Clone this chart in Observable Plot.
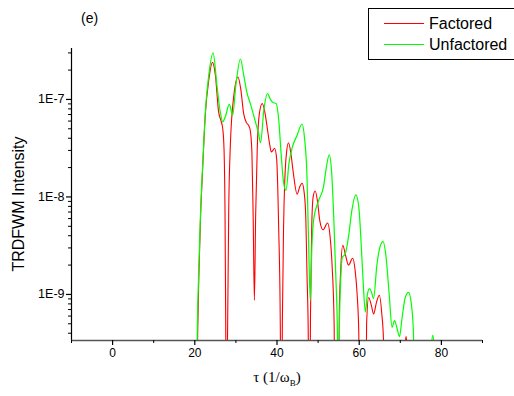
<!DOCTYPE html>
<html><head><meta charset="utf-8">
<script src="https://cdn.jsdelivr.net/npm/d3@7"></script>
<script src="https://cdn.jsdelivr.net/npm/@observablehq/plot@0.6"></script>
<style>
html,body{margin:0;padding:0;background:#fff;overflow:hidden;}
#wrap{position:relative;width:514px;height:396px;font-family:Arial,"Liberation Sans",sans-serif;color:#000;}
#legend{position:absolute;left:368px;top:8px;width:170px;height:50px;border:1px solid #000;background:#fff;}
.lg{position:absolute;left:15px;width:40px;height:0;}
.lt{position:absolute;left:60px;font-size:16px;line-height:16px;white-space:nowrap;}
#xlab{position:absolute;left:0;width:514px;top:369px;text-align:center;font-family:"Liberation Serif","Times New Roman",serif;font-size:15px;padding-left:40px;box-sizing:border-box;}
#ylab{position:absolute;left:19px;top:204px;width:0;height:0;}
#ylab span{position:absolute;left:0;top:0;transform:translate(-50%,-50%) rotate(-90deg);white-space:nowrap;font-size:16px;line-height:16px;}
#tag{position:absolute;left:81px;top:10px;font-size:14px;}
</style></head>
<body><div id="wrap">
<div id="chart"></div>
<div id="tag">(e)</div>
<div id="ylab"><span>TRDFWM Intensity</span></div>
<div id="xlab">τ (1/ω<sub style="font-size:9px">B</sub>)</div>
<div id="legend">
  <div class="lg" style="top:14px;border-top:1px solid #ff0000"></div>
  <div class="lt" style="top:7px">Factored</div>
  <div class="lg" style="top:35px;border-top:1.5px solid #00ff00"></div>
  <div class="lt" style="top:28px">Unfactored</div>
</div>
</div>
<script>
// Factored (red) series: tau and intensity
const factoredTau = [20.3,20.7,21.0,21.4,21.8,22.6,23.4,24.3,25.0,25.8,26.4,26.8,27.1,27.35,27.55,27.75,27.95,28.25,28.65,29.5,30.5,31.2,31.9,32.6,33.1,33.5,33.9,34.2,34.5,34.8,35.2,35.7,36.4,37.0,37.6,38.2,38.6,39.0,39.4,39.9,40.4,40.8,41.05,41.3,41.6,41.9,42.3,42.8,43.4,43.9,44.9,45.5,46.1,46.6,47.0,47.3,47.6,47.85,48.15,48.45,48.8,49.3,49.9,50.4,51.2,52.3,52.9,53.4,53.9,54.2,54.9,55.15,55.5,56.0,56.7,57.4,58.4,59.0,59.5,59.9,60.2,61.5,61.8,62.3,63.0,63.5,64.2,64.9,65.5,65.9,66.15,71.0,71.2,71.4,71.6,71.8];
const factoredI = [1e-11,4.0e-10,1.6e-9,6.3e-9,1.55e-8,7.4e-8,1.58e-7,2.4e-7,1.78e-7,7.4e-8,6.0e-8,5.0e-8,3.2e-8,7.1e-9,3.2e-10,1e-11,3.2e-10,7.1e-9,3.4e-8,1.1e-7,1.7e-7,1.26e-7,7.1e-8,5.75e-8,5.4e-8,4.8e-8,2.8e-8,6.3e-9,8.7e-10,6.3e-9,3.2e-8,7.1e-8,9.1e-8,7.6e-8,5.2e-8,3.5e-8,2.9e-8,3.0e-8,3.16e-8,2.5e-8,5.0e-9,5.0e-10,1e-11,5.0e-10,5.0e-9,1.5e-8,2.8e-8,3.6e-8,2.75e-8,1.86e-8,1.07e-8,1.26e-8,1.38e-8,1.12e-8,6.3e-9,1.6e-9,4.0e-10,1e-11,6.3e-10,5.0e-9,1.0e-8,1.15e-8,8.7e-9,5.75e-9,4.6e-9,5.4e-9,4.0e-9,2.0e-9,5.0e-10,1e-11,1e-11,6.3e-10,1.78e-9,3.2e-9,2.5e-9,2.0e-9,2.35e-9,1.78e-9,1.0e-9,4.0e-10,1e-11,1e-11,5.0e-10,9.3e-10,7.6e-10,6.3e-10,8.3e-10,9.8e-10,6.3e-10,3.5e-10,1e-11,1e-11,3.0e-10,3.7e-10,3.0e-10,1e-11];
// Unfactored (green) series
const unfactoredTau = [20.2,20.6,21.0,21.4,22.0,22.6,23.4,24.45,25.4,26.2,26.8,27.4,28.4,29.2,30.0,31.1,31.9,32.7,33.5,34.7,35.5,36.0,36.8,37.7,38.4,39.0,39.8,40.4,41.0,41.6,42.2,42.9,43.7,44.9,46.1,46.7,47.3,47.7,48.1,48.5,48.9,50.1,51.3,52.0,52.7,53.3,53.8,54.3,54.7,54.95,55.2,55.5,55.9,56.6,57.4,58.2,59.2,59.9,60.5,61.0,61.5,62.0,62.5,63.0,63.5,64.3,65.0,65.8,66.5,67.3,68.0,68.6,69.2,69.8,70.4,71.2,72.0,72.7,73.2,73.6,77.3,77.6,77.9,78.2,78.5];
const unfactoredI = [1e-11,4.0e-10,2.0e-9,6.9e-9,2.5e-8,7.9e-8,1.78e-7,3.0e-7,1.38e-7,7.4e-8,5.9e-8,6.6e-8,8.9e-8,6.9e-8,1.41e-7,2.6e-7,1.78e-7,1.17e-7,9.1e-8,6.0e-8,4.5e-8,3.6e-8,7.8e-8,1.15e-7,1.0e-7,9.3e-8,9.1e-8,6.3e-8,2.8e-8,1.41e-8,1.17e-8,2.2e-8,3.2e-8,4.3e-8,5.6e-8,4.0e-8,1.6e-8,3.2e-9,8.7e-10,3.2e-9,5.75e-9,9.1e-9,1.26e-8,2.0e-8,2.7e-8,1.78e-8,6.3e-9,1.58e-9,4.0e-10,1e-11,5.0e-10,1.41e-9,2.4e-9,2.6e-9,3.9e-9,7.2e-9,1.05e-8,7.9e-9,3.2e-9,1.26e-9,6.6e-10,1.0e-9,1.15e-9,1.05e-9,9.1e-10,2.0e-9,3.0e-9,3.5e-9,2.5e-9,1.0e-9,4.6e-10,5.4e-10,4.5e-10,3.7e-10,5.6e-10,9.3e-10,1.05e-9,7.9e-10,4.0e-10,1e-11,1e-11,3.0e-10,3.8e-10,3.0e-10,1e-11];
// Axis ticks
const xMajorTicks = [0, 20, 40, 60, 80];
const xMinorTicks = [-10, 10, 30, 50, 70, 90];
const yMajorTicks = [1e-9, 1e-8, 1e-7];
const yMinorTicks = [4e-10,5e-10,6e-10,7e-10,8e-10,9e-10,2e-9,3e-9,4e-9,5e-9,6e-9,7e-9,8e-9,9e-9,2e-8,3e-8,4e-8,5e-8,6e-8,7e-8,8e-8,9e-8,2e-7,3e-7];
const yMin = 3.37e-10, yMax = 3.33e-7;

const factored = factoredTau.map((t, i) => ({tau: t, I: factoredI[i]}));
const unfactored = unfactoredTau.map((t, i) => ({tau: t, I: unfactoredI[i]}));

const chart = Plot.plot({
  width: 514, height: 396,
  marginLeft: 71, marginRight: 32, marginTop: 48, marginBottom: 56,
  style: {fontFamily: "Arial, 'Liberation Sans', sans-serif", fontSize: "12px", color: "#000", background: "#fff"},
  x: {domain: [-10, 90]},
  y: {type: "log", domain: [yMin, yMax]},
  marks: [
    Plot.line(factored, {x: "tau", y: "I", stroke: "#ff0000", strokeWidth: 1.1, curve: "monotone-x", clip: true}),
    Plot.line(unfactored, {x: "tau", y: "I", stroke: "#00ff00", strokeWidth: 1.2, curve: "monotone-x", clip: true}),
    Plot.ruleX([-10], {stroke: "#000", strokeWidth: 1.2}),
    Plot.ruleY([yMin], {stroke: "#555", strokeWidth: 1.6}),
    Plot.axisX(xMajorTicks, {tickSize: 5, tickPadding: 3, fontSize: 12, tickFormat: d => String(d), label: null, strokeWidth: 1.2}),
    Plot.axisX(xMinorTicks, {tickSize: 3, tickFormat: () => "", label: null}),
    Plot.axisY(yMajorTicks, {tickSize: 5, tickPadding: 2, fontSize: 12.5, tickFormat: d => "1E" + Math.round(Math.log10(d)), label: null, strokeWidth: 1.2}),
    Plot.axisY(yMinorTicks, {tickSize: 3, tickFormat: () => "", label: null})
  ]
});
document.getElementById("chart").appendChild(chart);
</script>
</body></html>
